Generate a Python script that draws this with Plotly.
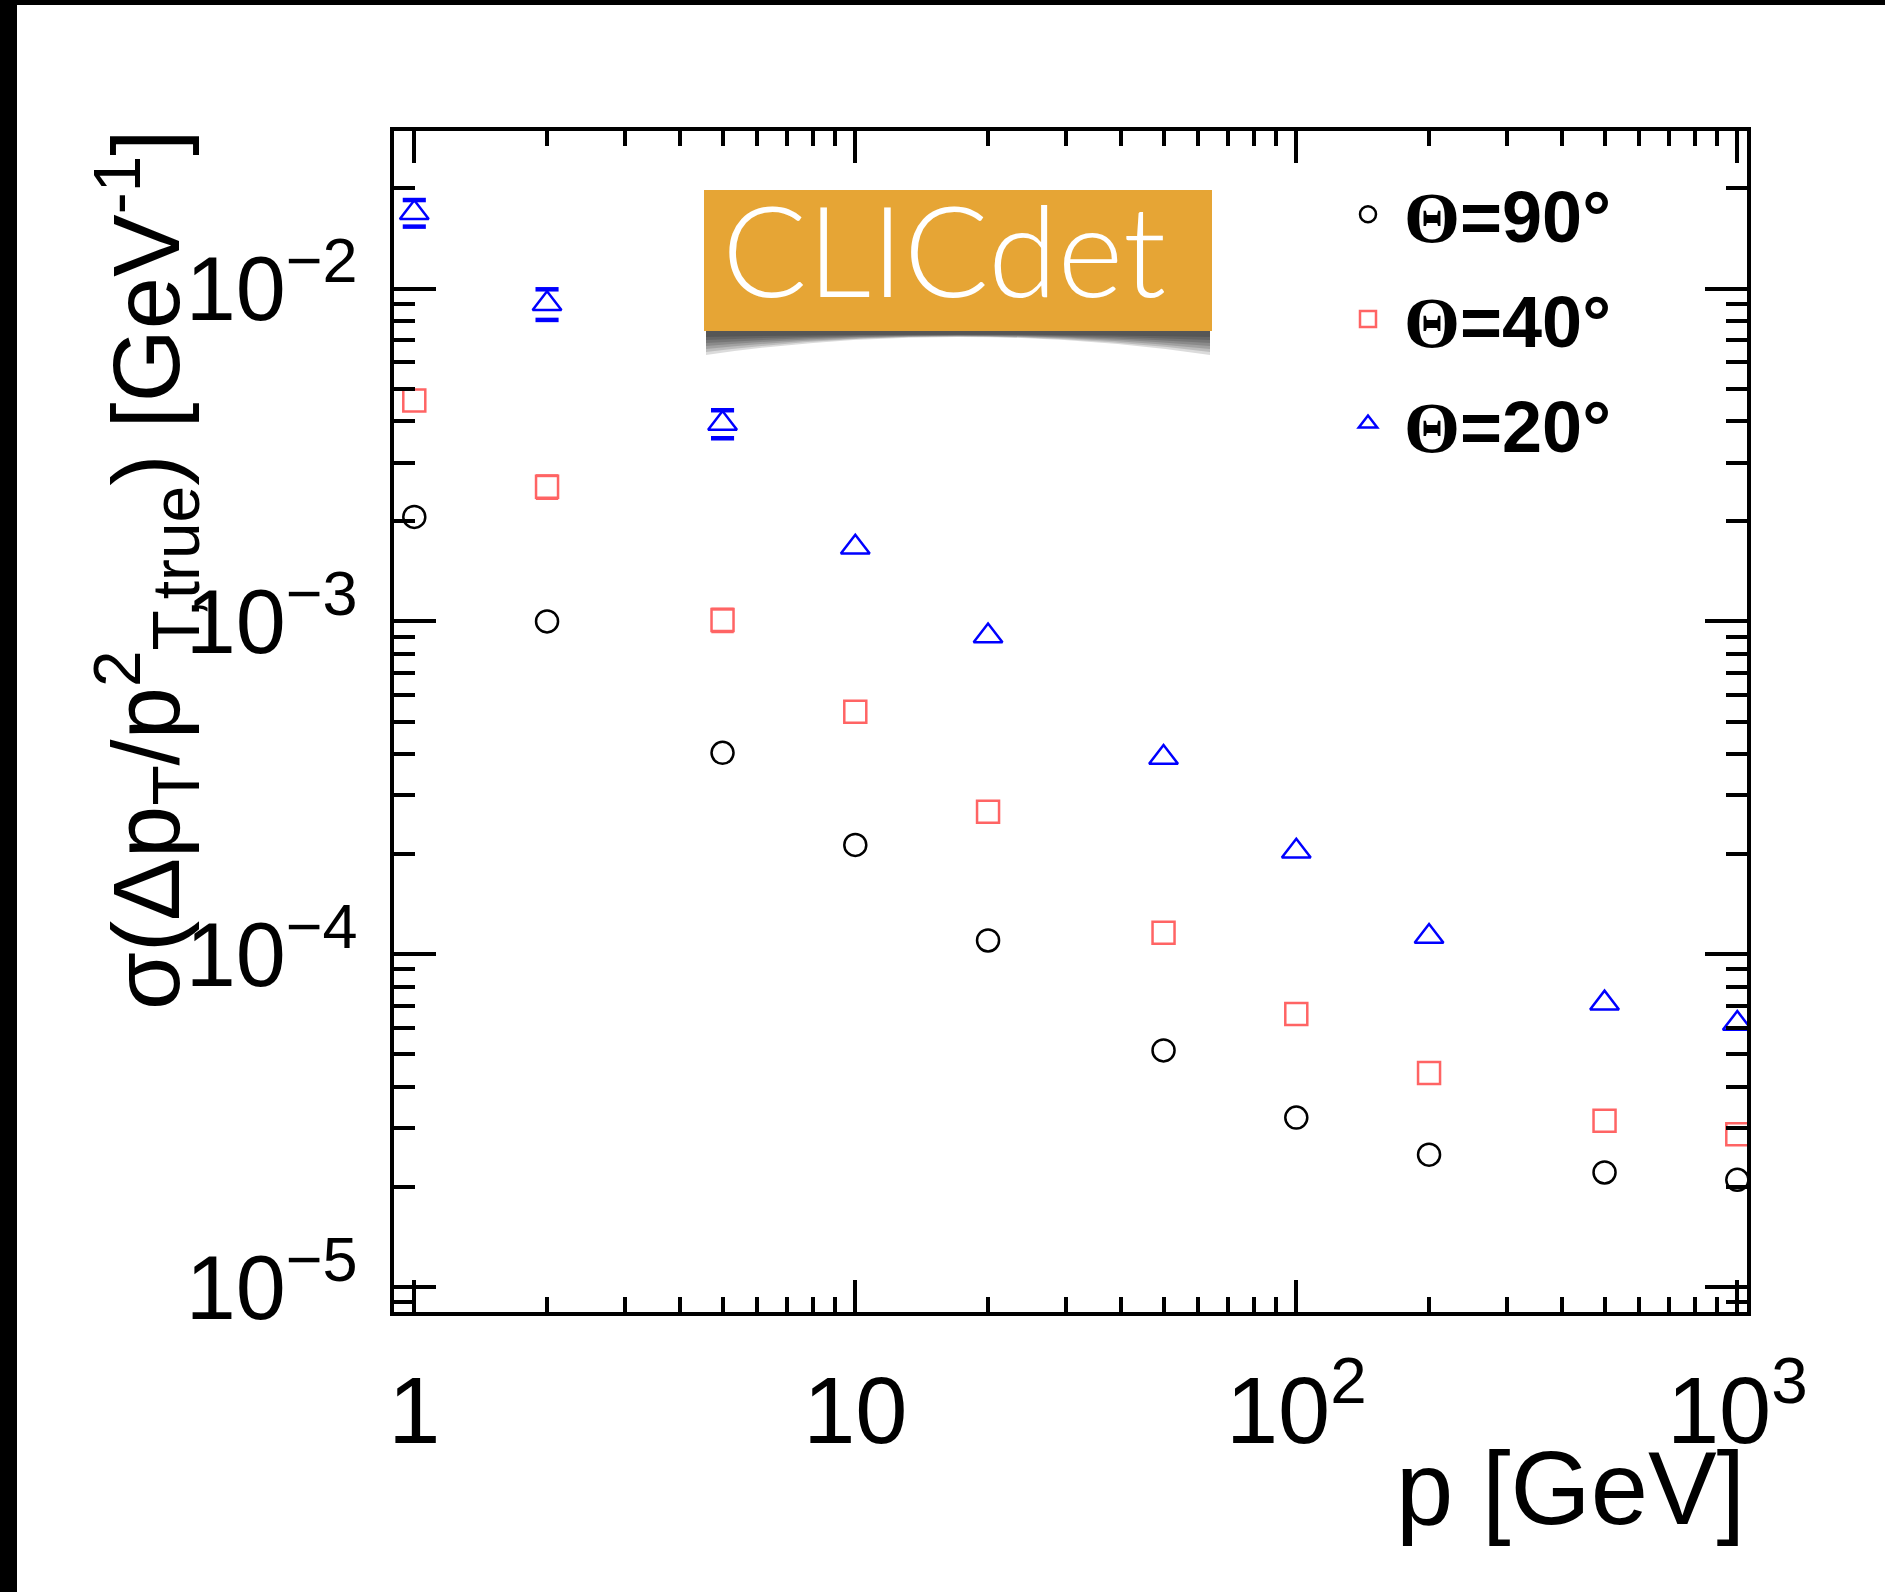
import plotly.graph_objects as go

# momentum points [GeV]
p_gev = [1, 2, 5, 10, 20, 50, 100, 200, 500, 1000]

# sigma(dpT/pT^2) [GeV^-1] per polar angle
sigma_90 = [2.06e-3, 1.00e-3, 4.03e-4, 2.13e-4, 1.10e-4, 5.14e-5, 3.23e-5, 2.50e-5, 2.21e-5, 2.10e-5]
sigma_40 = [4.61e-3, 2.54e-3, 1.01e-3, 5.35e-4, 2.68e-4, 1.16e-4, 6.62e-5, 4.40e-5, 3.16e-5, 2.88e-5]
sigma_20 = [1.69e-2, 9.0e-3, 3.93e-3, 1.67e-3, 9.04e-4, 3.90e-4, 2.04e-4, 1.13e-4, 7.13e-5, 6.19e-5]

# statistical errors, only visible at low momentum
err_40_p = [2, 5]
err_40 = [2.0e-4, 7.9e-5]
err_20_p = [1, 2, 5]
err_20 = [1.55e-3, 0.95e-3, 3.8e-4]

W, H = 1885, 1592
ML, MR, MT, MB = 394, 138, 131, 280
PW, PH = W - ML - MR, H - MT - MB

BLUE = "#0000ff"
RED = "#ff6464"
ORANGE = "#e6a535"
FONT = "Liberation Sans, Arial, sans-serif"


def px_x(x):
    return (x - ML) / PW


def px_y(y):
    return (H - MB - y) / PH


def pick(xs, ys, keep):
    return [y for x, y in zip(xs, ys) if x in keep]


def caps(xs, ys, errs, color, size, width):
    # ROOT style end caps only (the stem is hidden behind the marker)
    hi = [y + e for y, e in zip(ys, errs)]
    lo = [y - e for y, e in zip(ys, errs)]
    return go.Scatter(
        x=xs + xs, y=hi + lo, mode="markers", showlegend=False, hoverinfo="skip",
        marker=dict(symbol="line-ew", size=size, color=color, line=dict(width=width, color=color)),
    )


fig = go.Figure()

fig.add_trace(caps(err_40_p, pick(p_gev, sigma_40, err_40_p), err_40, RED, 16, 3))
fig.add_trace(caps(err_20_p, pick(p_gev, sigma_20, err_20_p), err_20, BLUE, 16.5, 4.5))

fig.add_trace(go.Scatter(
    x=p_gev, y=sigma_90, mode="markers", legendgroup="a",
    name="<span style='font-family:Liberation Serif'>Θ</span>=90°",
    marker=dict(symbol="circle-open", size=22, color="black", line=dict(width=2.5, color="black")),
))
fig.add_trace(go.Scatter(
    x=p_gev, y=sigma_40, mode="markers", legendgroup="b",
    name="<span style='font-family:Liberation Serif'>Θ</span>=40°",
    marker=dict(symbol="square-open", size=22, color=RED, line=dict(width=2.5, color=RED)),
))
fig.add_trace(go.Scatter(
    x=p_gev, y=sigma_20, mode="markers", legendgroup="c",
    name="<span style='font-family:Liberation Serif'>Θ</span>=20°",
    marker=dict(symbol="triangle-up-open", size=25, color=BLUE, line=dict(width=2.5, color=BLUE)),
))

axis_common = dict(
    type="log",
    showline=True, linewidth=4, linecolor="black",
    mirror="allticks", ticks="inside",
    tickcolor="black", showgrid=False, zeroline=False,
    tickmode="linear", tick0=0, dtick=1,
    exponentformat="power",
)

fig.update_xaxes(
    **axis_common,
    range=[-0.046, 3.022],
    ticklen=32, tickwidth=3.5,
    minor=dict(ticks="inside", dtick="D1", ticklen=15, tickwidth=3.5, tickcolor="black", showgrid=False),
    tickfont=dict(family=FONT, size=75, color="black"),
    ticklabelstandoff=18,
)
fig.update_yaxes(
    **axis_common,
    range=[-5.0748, -1.5266],
    ticklen=42, tickwidth=4,
    minor=dict(ticks="inside", dtick="D1", ticklen=21, tickwidth=4, tickcolor="black", showgrid=False),
    tickfont=dict(family=FONT, size=72, color="black"),
    ticklabelstandoff=18,
)

shapes = []
# black bars at the top and left edge of the original picture
shapes.append(dict(type="rect", xref="paper", yref="paper", x0=px_x(-10), x1=px_x(17),
                   y0=px_y(H + 10), y1=px_y(-10), fillcolor="black", line=dict(width=0), layer="above"))
shapes.append(dict(type="rect", xref="paper", yref="paper", x0=px_x(-10), x1=px_x(W + 10),
                   y0=px_y(5), y1=px_y(-10), fillcolor="black", line=dict(width=0), layer="above"))

# CLICdet logo with a soft curled shadow
box = (704, 1212, 190, 331)
x0, x1 = box[0] + 2, box[1] - 2
yb = box[3]
for grow in [24, 21, 18, 15, 12, 9, 6]:
    mid = 3 + grow * 0.12
    path = "M {a},{b} L {c},{b} L {c},{d} Q {m},{e} {a},{d} Z".format(
        a=px_x(x0), c=px_x(x1), b=px_y(yb - 2), d=px_y(yb + grow),
        m=px_x((x0 + x1) / 2), e=px_y(yb + 2 * mid - grow))
    shapes.append(dict(type="path", xref="paper", yref="paper", path=path,
                       fillcolor="black", opacity=0.14, line=dict(width=0), layer="above"))
shapes.append(dict(type="rect", xref="paper", yref="paper", x0=px_x(box[0]), x1=px_x(box[1]),
                   y0=px_y(box[3]), y1=px_y(box[2]), fillcolor=ORANGE, line=dict(width=0), layer="above"))

annotations = [
    dict(text="CLICdet", xref="paper", yref="paper", x=px_x(944), y=px_y(248),
         xanchor="center", yanchor="middle", showarrow=False,
         font=dict(family="Lato, Noto Sans, sans-serif", size=126, color="white", weight=300)),
    dict(text="p [GeV]", xref="paper", yref="paper", x=px_x(1747), y=px_y(1488),
         xanchor="right", yanchor="middle", showarrow=False,
         font=dict(family=FONT, size=103, color="black")),
    dict(text="σ(Δp<sub>T</sub>/p<sup>2</sup><sub>T,true</sub>) [GeV<sup>-1</sup>]",
         xref="paper", yref="paper", x=px_x(146), y=px_y(128),
         xanchor="center", yanchor="top", textangle=-90, showarrow=False,
         font=dict(family=FONT, size=94, color="black")),
]

fig.update_layout(
    width=W, height=H,
    margin=dict(l=ML, r=MR, t=MT, b=MB),
    paper_bgcolor="white", plot_bgcolor="white",
    shapes=shapes, annotations=annotations,
    showlegend=True,
    legend=dict(
        x=px_x(1332), y=px_y(161), xanchor="left", yanchor="top",
        bgcolor="rgba(0,0,0,0)", borderwidth=0,
        font=dict(family=FONT, size=72, color="black", weight="bold"),
        traceorder="grouped", tracegroupgap=8, itemsizing="trace", itemwidth=62,
    ),
)

# drop the default page margin so the figure sits at the window corner
fig.write_html("out.html", config={"displayModeBar": False},
               post_script="document.body.style.margin='0px';")
